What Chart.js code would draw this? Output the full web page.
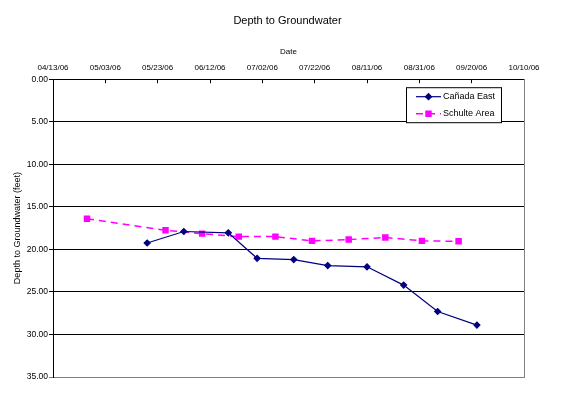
<!DOCTYPE html>
<html>
<head>
<meta charset="utf-8">
<script src="https://cdn.jsdelivr.net/npm/chart.js@4.4.0/dist/chart.umd.min.js"></script>
<style>
    html, body { margin: 0; padding: 0; background: #fff; }
</style>
</head>
<body>
<canvas id="depthChart" width="575" height="393"></canvas>
<script>
// date axis labels, every 20 days
const tickLabels = ['04/13/06', '05/03/06', '05/23/06', '06/12/06', '07/02/06', '07/22/06', '08/11/06', '08/31/06', '09/20/06', '10/10/06'];

const canadaDates = ['05/19/06', '06/02/06', '06/19/06', '06/30/06', '07/14/06', '07/27/06', '08/11/06', '08/25/06', '09/07/06', '09/22/06'];
const canadaDepths = [19.25, 17.9, 18.05, 21.05, 21.2, 21.9, 22.05, 24.2, 27.3, 28.9];

const schulteDates = ['04/26/06', '05/26/06', '06/09/06', '06/23/06', '07/07/06', '07/21/06', '08/04/06', '08/18/06', '09/01/06', '09/15/06'];
const schulteDepths = [16.4, 17.75, 18.15, 18.5, 18.5, 19.0, 18.85, 18.6, 19.0, 19.05];

const seriesNames = ['Cañada East', 'Schulte Area'];

const FONT = 'Liberation Sans, Arial, sans-serif';

function dayOffset(s) {
    const [m, d, y] = s.split('/').map(Number);
    return (Date.UTC(2000 + y, m - 1, d) - Date.UTC(2006, 3, 13)) / 86400000;
}

function toPoints(dates, values) {
    return dates.map((d, i) => ({ x: dayOffset(d), y: values[i] }));
}

// legend box sitting inside the plot, top right
const legendBox = {
    id: 'legendBox',
    afterDraw(chart) {
        const ctx = chart.ctx;
        const area = chart.chartArea;
        const x = area.right - 118, y = area.top + 8, w = 95, h = 35;
        ctx.save();
        ctx.fillStyle = '#fff';
        ctx.fillRect(x, y, w, h);
        ctx.strokeStyle = '#000';
        ctx.lineWidth = 1;
        ctx.strokeRect(x + 0.5, y + 0.5, w, h);
        chart.data.datasets.forEach((ds, i) => {
            const ly = y + 9.5 + i * 17;
            ctx.strokeStyle = ds.borderColor;
            ctx.lineWidth = ds.borderWidth;
            ctx.setLineDash(ds.borderDash || []);
            ctx.beginPath();
            ctx.moveTo(x + 10, ly);
            ctx.lineTo(x + 35, ly);
            ctx.stroke();
            ctx.setLineDash([]);
            ctx.fillStyle = ds.pointBackgroundColor;
            Chart.helpers.drawPoint(ctx, {
                pointStyle: ds.pointStyle,
                radius: ds.pointRadius,
                rotation: 0,
                borderWidth: 1
            }, x + 22.5, ly);
            ctx.fillStyle = '#000';
            ctx.font = '9px ' + FONT;
            ctx.textBaseline = 'middle';
            ctx.fillText(ds.label, x + 37, ly);
        });
        ctx.restore();
    }
};

new Chart(document.getElementById('depthChart'), {
    type: 'line',
    data: {
        datasets: [{
            label: seriesNames[0],
            data: toPoints(canadaDates, canadaDepths),
            borderColor: '#000080',
            backgroundColor: '#000080',
            pointBackgroundColor: '#000080',
            pointBorderColor: '#000080',
            borderWidth: 1.2,
            pointStyle: 'rectRot',
            pointRadius: 3,
            tension: 0
        }, {
            label: seriesNames[1],
            data: toPoints(schulteDates, schulteDepths),
            borderColor: '#ff00ff',
            backgroundColor: '#ff00ff',
            pointBackgroundColor: '#ff00ff',
            pointBorderColor: '#ff00ff',
            borderWidth: 1.5,
            borderDash: [7, 5],
            pointStyle: 'rect',
            pointRadius: 3.5,
            tension: 0
        }]
    },
    options: {
        responsive: false,
        animation: false,
        layout: { padding: { left: 0, right: 0, top: 0, bottom: 16 } },
        scales: {
            x: {
                type: 'linear',
                position: 'top',
                min: 0,
                max: 180,
                afterFit: (scale) => { scale.height = 52; },
                ticks: {
                    stepSize: 20,
                    maxRotation: 0,
                    autoSkip: false,
                    padding: 11,
                    color: '#000',
                    font: { family: FONT, size: 8 },
                    callback: (value, index) => tickLabels[index]
                },
                grid: { drawOnChartArea: false, tickLength: -4, color: '#000' },
                border: { color: '#000' },
                title: {
                    display: true,
                    text: 'Date',
                    color: '#000',
                    font: { family: FONT, size: 8 },
                    padding: { top: 20, bottom: 0 }
                }
            },
            y: {
                reverse: true,
                min: 0,
                max: 35,
                afterFit: (scale) => { scale.width = 53; },
                ticks: {
                    stepSize: 5,
                    padding: 1,
                    color: '#000',
                    font: { family: FONT, size: 8.5 },
                    callback: (v) => v.toFixed(2)
                },
                grid: {
                    tickLength: 4,
                    color: (c) => c.tick && c.tick.value === 35 ? '#808080' : '#000'
                },
                border: { color: '#000' },
                title: {
                    display: true,
                    text: 'Depth to Groundwater (feet)',
                    color: '#000',
                    font: { family: FONT, size: 9 },
                    padding: { top: 12, bottom: 0 }
                }
            },
            // empty right axis: grey plot edge and the right margin
            right: {
                position: 'right',
                afterFit: (scale) => { scale.width = 51; },
                ticks: { display: false },
                grid: { drawOnChartArea: false, drawTicks: false },
                border: { color: '#808080' }
            }
        },
        plugins: {
            legend: { display: false },
            tooltip: { enabled: false },
            title: {
                display: true,
                text: 'Depth to Groundwater',
                color: '#000',
                font: { family: FONT, size: 11, weight: 'normal' },
                padding: { top: 14, bottom: 0 }
            }
        }
    },
    plugins: [legendBox]
});
</script>
</body>
</html>
